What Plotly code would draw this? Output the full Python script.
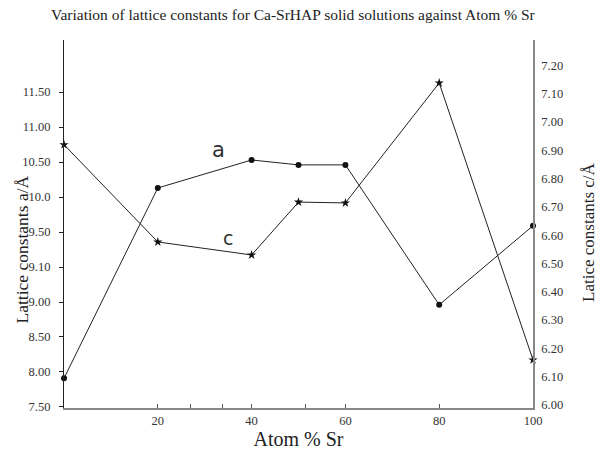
import numpy as np
import plotly.graph_objects as go

# Data
atom_pct = [0, 20, 40, 50, 60, 80, 100]
lattice_a = [7.91, 10.13, 10.53, 10.46, 10.46, 8.96, 9.59]   # left axis (label units)
lattice_c = [6.92, 6.576, 6.53, 6.717, 6.714, 7.138, 6.159]  # right axis

left_tick_values = [7.50, 8.00, 8.50, 9.00, 9.10, 9.50, 10.0, 10.50, 11.00, 11.50]
left_tick_text = ["7.50", "8.00", "8.50", "9.00", "9.10", "9.50", "10.0", "10.50", "11.00", "11.50"]
right_tick_values = [6.0, 6.1, 6.2, 6.3, 6.4, 6.5, 6.6, 6.7, 6.8, 6.9, 7.0, 7.1, 7.2]
x_tick_values = [20, 26.9, 33.9, 40, 51.4, 60, 80, 100]
x_tick_text = ["20", "", "", "40", "", "60", "80", "100"]

# Left axis in the figure has evenly spaced labels: map label units onto the tick index scale
left_idx = list(range(len(left_tick_values)))
a_pos = np.interp(lattice_a, left_tick_values, left_idx)

serif = "Liberation Serif, Times New Roman, serif"
line_col = "#222222"

fig = go.Figure()
fig.add_trace(go.Scatter(
    x=atom_pct, y=a_pos, mode="lines+markers", name="a",
    line=dict(color=line_col, width=1),
    marker=dict(symbol="circle", size=6, color="#111111"),
    cliponaxis=False, yaxis="y"))
fig.add_trace(go.Scatter(
    x=atom_pct, y=lattice_c, mode="lines+markers", name="c",
    line=dict(color=line_col, width=1),
    marker=dict(symbol="star", size=7, color="#111111"),
    cliponaxis=False, yaxis="y2"))

fig.update_layout(
    width=605, height=453,
    margin=dict(l=64, r=72, t=40, b=45),
    paper_bgcolor="white", plot_bgcolor="white",
    showlegend=False,
    font=dict(family=serif, color="#333333", size=12),
    title=dict(text="Variation of lattice constants for Ca-SrHAP solid solutions against Atom % Sr",
               x=0.488, xref="paper", xanchor="center", y=0.967, yanchor="middle",
               font=dict(family=serif, size=15.5, color="#222222")),
    xaxis=dict(range=[0, 100], tickvals=x_tick_values, ticktext=x_tick_text, automargin=False,
               showgrid=False, zeroline=False, showline=True, linecolor="#888888", linewidth=1.5,
               ticks="inside", ticklen=4, tickcolor="#555555",
               tickfont=dict(family=serif, size=12.5, color="#333333"),
               title=dict(text="Atom % Sr", font=dict(family=serif, size=20, color="#222222"), standoff=2)),
    yaxis=dict(range=[-0.03, 10.49], tickvals=left_idx, ticktext=left_tick_text, automargin=False,
               showgrid=False, zeroline=False, showline=True, linecolor="#222222", linewidth=1.2,
               ticks="outside", ticklen=4, tickcolor="#222222", ticklabelstandoff=6,
               tickfont=dict(family=serif, size=12.5, color="#333333")),
    yaxis2=dict(range=[5.989, 7.29], tickvals=right_tick_values, automargin=False,
                tickformat=".2f", overlaying="y", side="right",
                showgrid=False, zeroline=False, showline=True, linecolor="#888888", linewidth=1.5,
                ticks="", ticklabelstandoff=4, tickfont=dict(family=serif, size=12.5, color="#333333")),
    annotations=[
        dict(text="Lattice constants a/Å", xref="paper", yref="paper",
             x=-0.09, y=0.43, textangle=-90, showarrow=False,
             font=dict(family=serif, size=17.5, color="#222222"), xanchor="center", yanchor="middle"),
        dict(text="Latice constants c/Å", xref="paper", yref="paper",
             x=1.117, y=0.478, textangle=-90, showarrow=False,
             font=dict(family=serif, size=17, color="#222222"), xanchor="center", yanchor="middle"),
        dict(text="a", x=33, y=(407 - 150) / 35.0, xref="x", yref="y",
             showarrow=False, font=dict(family="DejaVu Sans, sans-serif", size=21, color="#333333")),
        dict(text="c", x=35, y=6.0 + (405 - 238) / 283.0, xref="x", yref="y2",
             showarrow=False, font=dict(family="DejaVu Sans, sans-serif", size=19, color="#333333")),
    ],
)

fig.write_html("out.html", config={"displayModeBar": False},
               post_script="document.body.style.margin='0';document.body.style.padding='0';")
